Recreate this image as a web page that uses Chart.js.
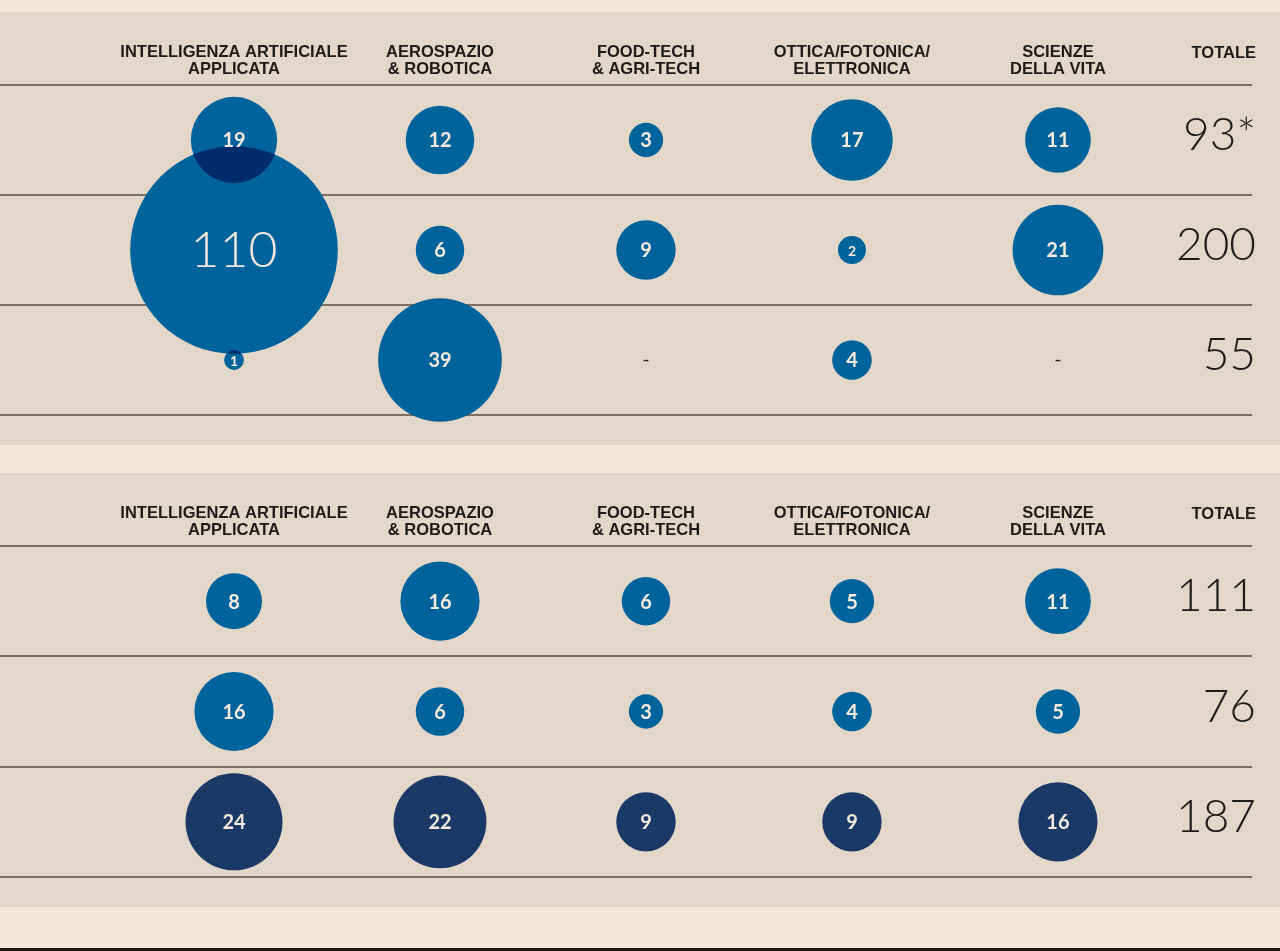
<!DOCTYPE html>
<html>
<head>
<meta charset="utf-8">
<script src="https://cdn.jsdelivr.net/npm/chart.js@4/dist/chart.umd.min.js"></script>
<style>
  html, body { margin: 0; padding: 0; background: #f5e6d7; }
  body { width: 1280px; height: 951px; position: relative; overflow: hidden; }
  .panel { position: absolute; left: 0; width: 1280px; height: 433px; background: #e2d7c9; }
  #p1 { top: 12px; }
  #p2 { top: 473px; height: 434px; }
  .rule { position: absolute; left: 0; bottom: 0; width: 1280px; height: 3px; background: #1d1a17; }
</style>
</head>
<body>
<div class="panel" id="p1"><canvas id="c1" width="1280" height="433"></canvas></div>
<div class="panel" id="p2"><canvas id="c2" width="1280" height="434"></canvas></div>
<div class="rule"></div>
<script>
// colonne (settori)
const categories = [
  ['INTELLIGENZA ARTIFICIALE', 'APPLICATA'],
  ['AEROSPAZIO', '& ROBOTICA'],
  ['FOOD-TECH', '& AGRI-TECH'],
  ['OTTICA/FOTONICA/', 'ELETTRONICA'],
  ['SCIENZE', 'DELLA VITA']
]
const totalHeader = 'TOTALE'

// pannello superiore: una riga per serie, null = "-"
const top1 = [19, 12, 3, 17, 11]
const top2 = [110, 6, 9, 2, 21]
const top3 = [1, 39, null, 4, null]
const topTotals = ['93*', '200', '55']

// pannello inferiore
const bottom1 = [8, 16, 6, 5, 11]
const bottom2 = [16, 6, 3, 4, 5]
const bottom3 = [24, 22, 9, 9, 16]
const bottomTotals = ['111', '76', '187']

const BLUE = '#00639b'
const NAVY = '#1b3966'
const OVERLAP = '#002b6c'
const INK = '#1e1b18'
const CREAM = '#f3e9dc'
const HEAD_FONT = "'Liberation Sans', Arial, sans-serif"

const bubbleLabels = {
  id: 'bubbleLabels',
  afterDatasetsDraw(chart) {
    const ctx = chart.ctx
    const els = []
    chart.data.datasets.forEach((ds, di) => {
      chart.getDatasetMeta(di).data.forEach((el, k) => {
        els.push({ x: el.x, y: el.y, r: el.options.radius, v: ds.data[k].v })
      })
    })
    // zone di sovrapposizione più scure
    for (let i = 0; i < els.length; i++) {
      for (let j = i + 1; j < els.length; j++) {
        const a = els[i], b = els[j]
        if (Math.hypot(a.x - b.x, a.y - b.y) < a.r + b.r) {
          ctx.save()
          ctx.beginPath(); ctx.arc(a.x, a.y, a.r, 0, Math.PI * 2); ctx.clip()
          ctx.beginPath(); ctx.arc(b.x, b.y, b.r, 0, Math.PI * 2)
          ctx.fillStyle = OVERLAP; ctx.fill()
          ctx.restore()
        }
      }
    }
    ctx.save()
    ctx.fillStyle = CREAM
    ctx.textAlign = 'center'
    ctx.textBaseline = 'middle'
    els.forEach(e => {
      if (e.r > 80) ctx.font = '300 50px Lato'
      else if (e.r < 16) ctx.font = 'bold 14px Lato'
      else ctx.font = 'bold 20px Lato'
      ctx.fillText(String(e.v), e.x, e.y + 1)
    })
    ctx.restore()
  },
  afterDraw(chart) {
    const ctx = chart.ctx
    const { chartArea } = chart
    const xs = chart.scales.x, ys = chart.scales.y
    const opts = chart.options.plugins.bubbleLabels
    ctx.save()
    // trattini per valori mancanti
    ctx.fillStyle = '#3a332d'
    ctx.font = '20px Lato'
    ctx.textAlign = 'center'
    ctx.textBaseline = 'middle'
    opts.rows.forEach((vals, ri) => {
      vals.forEach((v, ci) => {
        if (v == null) ctx.fillText('-', xs.getPixelForValue(ci), ys.getPixelForValue(ri))
      })
    })
    // intestazione e totali
    ctx.fillStyle = INK
    ctx.textAlign = 'right'
    ctx.font = 'bold 16.5px ' + HEAD_FONT
    ctx.fillText(totalHeader, chartArea.right + 4, 41)
    ctx.font = '300 46px Lato'
    ctx.textBaseline = 'alphabetic'
    opts.totals.forEach((t, ri) => {
      ctx.fillText(t, chartArea.right + 4, ys.getPixelForValue(ri) + 10)
    })
    ctx.restore()
  }
}

function makeChart(id, rows, totals, colors) {
  return new Chart(document.getElementById(id), {
    type: 'bubble',
    data: {
      datasets: rows.map((vals, ri) => ({
        label: 'riga ' + (ri + 1),
        data: vals.map((v, ci) => v == null ? null : { x: ci, y: ri, v, r: 9.9 * Math.sqrt(v) })
                  .filter(Boolean),
        backgroundColor: colors[ri],
        borderWidth: 0,
        clip: false
      }))
    },
    options: {
      responsive: false,
      animation: false,
      events: [],
      layout: { autoPadding: false, padding: { left: 0, right: 28, top: 0, bottom: 30 } },
      scales: {
        x: {
          type: 'linear',
          position: 'top',
          min: -1.136,
          max: 4.942,
          afterBuildTicks: s => { s.ticks = categories.map((c, i) => ({ value: i })) },
          afterFit: s => { s.height = 73 },
          grid: { display: false, drawTicks: false },
          border: { display: false },
          ticks: {
            autoSkip: false,
            maxRotation: 0,
            padding: 7,
            color: INK,
            font: { family: HEAD_FONT, size: 16.5, weight: 'bold', lineHeight: 1.03 },
            callback: v => categories[v]
          }
        },
        y: {
          type: 'linear',
          min: -0.5,
          max: 2.5,
          reverse: true,
          afterBuildTicks: s => { s.ticks = [-0.5, 0.5, 1.5, 2.5].map(v => ({ value: v })) },
          afterFit: s => { s.width = 0 },
          ticks: { display: false },
          border: { display: false },
          grid: { color: '#7a6f65', lineWidth: 2, drawTicks: false }
        }
      },
      plugins: {
        legend: { display: false },
        tooltip: { enabled: false },
        bubbleLabels: { rows, totals }
      }
    },
    plugins: [bubbleLabels]
  })
}

makeChart('c1', [top1, top2, top3], topTotals, [BLUE, BLUE, BLUE])
makeChart('c2', [bottom1, bottom2, bottom3], bottomTotals, [BLUE, BLUE, NAVY])
</script>
</body>
</html>
